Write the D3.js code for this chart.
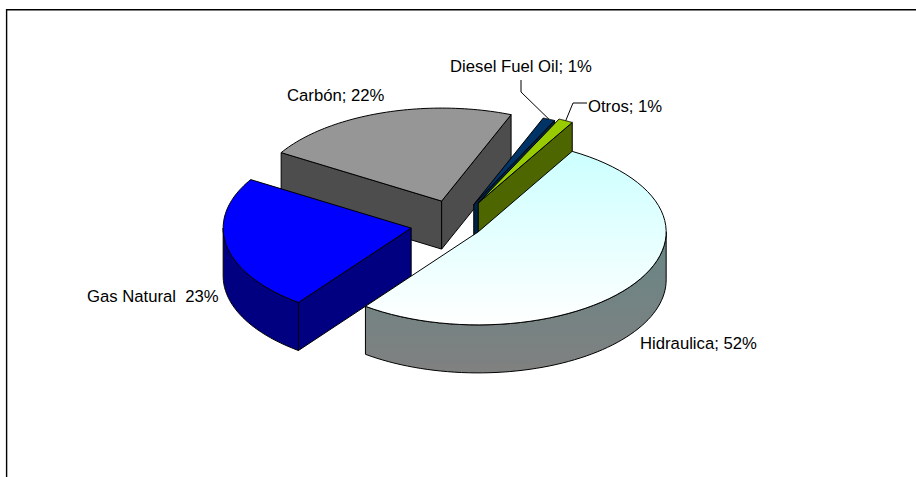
<!DOCTYPE html>
<html><head><meta charset="utf-8">
<style>html,body{margin:0;padding:0;background:#fff}svg{display:block}text{font-family:"Liberation Sans",Arial,sans-serif;font-size:16.7px;fill:#000}</style>
<script src="https://cdn.jsdelivr.net/npm/d3@7"></script></head><body>
<script>
const categories = ["Hidraulica","Gas Natural","Carbón","Diesel Fuel Oil","Otros"];
const seriesValues = [51.9,23.49,22.3,1.05,1.26];
const sliceLabels = ["Hidraulica; 52%","Gas Natural  23%","Carbón; 22%","Diesel Fuel Oil; 1%","Otros; 1%"];
const explosion = [0.154,0.232,0.255,0.235,0.26];
const explosionTurn = [0,0,3.5,3,2];
const topColors = ["url(#hidTop)","#0000ff","#969696","#003366","#99cc00"];
const sideColors = ["url(#hidSide)","#000080","#4d4d4d","#002244","#4d6600"];
const labelPos = [[640,349],[87,302],[287,101],[450,72],[588,112]];
const drawOrder = [2,3,4,1,0];
const leaders = {3:[[521,80],[521,92]],4:[[587,103],[573,103]]};

const W=916,H=477,rx=188,ry=93,depth=48,cx=454,cy=224,startDeg=30;
const svg=d3.select("body").append("svg").attr("width",W).attr("height",H);
const defs=svg.append("defs");
function grad(id,stops){const g=defs.append("linearGradient").attr("id",id).attr("x1",0).attr("y1",0).attr("x2",0).attr("y2",1);
 stops.forEach(s=>g.append("stop").attr("offset",s[0]).attr("stop-color",s[1]));}
grad("hidTop",[[0,"#ccffff"],[1,"#ffffff"]]);
grad("hidSide",[[0,"#678686"],[1,"#808080"]]);

svg.append("path").attr("d",`M916,9.7H6.6V477`).attr("fill","none").attr("stroke","#000").attr("stroke-width",1.4);

const pie=d3.pie().sort(null).startAngle(startDeg*Math.PI/180).endAngle((startDeg+360)*Math.PI/180);
const arcs=pie(seriesValues);
const px=d3.scaleLinear().domain([-1,1]).range([-rx,rx]);
const py=d3.scaleLinear().domain([-1,1]).range([-ry,ry]);
const slices=arcs.map((a,i)=>{const m=(a.startAngle+a.endAngle)/2+explosionTurn[i]*Math.PI/180,k=explosion[i];
 return {i,a,ox:cx+px(Math.sin(m)*k),oy:cy+py(-Math.cos(m)*k)};});
const pt=(s,t,z=0)=>[s.ox+px(Math.sin(t)),s.oy+py(-Math.cos(t))+z];
const line=d3.line();
function st(sel){return sel.attr("stroke","#000").attr("stroke-width",1).attr("stroke-linejoin","round");}
const TAU=2*Math.PI;
drawOrder.forEach(i=>{const s=slices[i],a=s.a,g=svg.append("g").attr("class","slice");
 const sa=a.startAngle,ea=a.endAngle;
 const wall=t=>[[s.ox,s.oy],pt(s,t),pt(s,t,depth),[s.ox,s.oy+depth]];
 if(Math.sin(sa)<0) st(g.append("path").attr("d",line(wall(sa))+"Z").attr("fill",sideColors[i]));
 if(Math.sin(ea)>0) st(g.append("path").attr("d",line(wall(ea))+"Z").attr("fill",sideColors[i]));
 for(const off of [0,TAU]){
  const lo=Math.max(sa,Math.PI/2+off),hi=Math.min(ea,1.5*Math.PI+off);
  if(hi>lo){const ts=d3.range(0,61).map(j=>lo+(hi-lo)*j/60);
   const p=ts.map(t=>pt(s,t)).concat(ts.slice().reverse().map(t=>pt(s,t,depth)));
   st(g.append("path").attr("d",line(p)+"Z").attr("fill",sideColors[i]));}
 }
 const ts=d3.range(0,61).map(j=>sa+(ea-sa)*j/60);
 st(g.append("path").attr("d",line([[s.ox,s.oy],...ts.map(t=>pt(s,t))])+"Z").attr("fill",topColors[i]));
});
Object.keys(leaders).forEach(k=>{const i=+k,s=slices[i],m=(s.a.startAngle+s.a.endAngle)/2;
 svg.append("path").attr("d",line([...leaders[k],pt(s,m)])).attr("fill","none").attr("stroke","#000").attr("stroke-width",1);});
sliceLabels.forEach((t,i)=>svg.append("text").attr("x",labelPos[i][0]).attr("y",labelPos[i][1]).style("white-space","pre").text(t));
</script></body></html>
